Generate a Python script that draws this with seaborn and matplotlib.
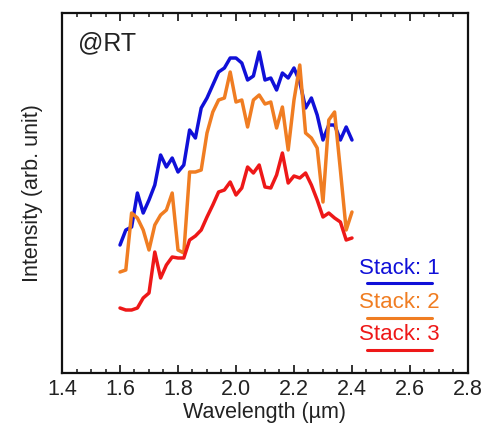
import numpy as np
import pandas as pd
import matplotlib
matplotlib.use("Agg")
import matplotlib.pyplot as plt
import seaborn as sns

# wavelength grid (um), 0.02 steps
wavelength = [round(1.6 + 0.02 * i, 2) for i in range(41)]

# intensities (arb. unit)
stack1 = [128, 143, 146, 180, 160, 173, 188, 218, 206, 215, 201, 208, 243, 235, 265,
          275, 288, 301, 305, 315, 315, 310, 293, 297, 321, 293, 295, 283, 300, 295,
          305, 291, 265, 275, 258, 233, 248, 248, 233, 246, 233]
stack2 = [101, 103, 160, 155, 143, 123, 148, 158, 163, 180, 123, 120, 201, 201, 203,
          240, 261, 273, 275, 301, 271, 273, 246, 273, 278, 269, 271, 245, 266, 223,
          273, 308, 240, 235, 225, 171, 253, 261, 203, 143, 161]
stack3 = [65, 63, 63, 65, 75, 80, 121, 95, 108, 116, 115, 115, 133, 137, 143,
          156, 168, 181, 183, 191, 178, 185, 206, 200, 208, 186, 185, 198, 220, 190,
          197, 195, 200, 188, 173, 156, 160, 155, 151, 133, 135]

labels = ["Stack: 1", "Stack: 2", "Stack: 3"]
colors = ["#1010d8", "#f07d22", "#ee1818"]

df = pd.DataFrame({
    "wavelength": wavelength * 3,
    "intensity": stack1 + stack2 + stack3,
    "stack": [labels[0]] * 41 + [labels[1]] * 41 + [labels[2]] * 41,
})

sns.set_style("ticks")
plt.rcParams["font.family"] = ["Liberation Sans", "DejaVu Sans"]

fig = plt.figure(figsize=(4.89, 4.38), dpi=100)
ax = fig.add_axes([0.1268, 0.1484, 0.8302, 0.8219])

sns.lineplot(data=df, x="wavelength", y="intensity", hue="stack",
             palette=colors, linewidth=2.5, legend=False, ax=ax)

ax.set_xlim(1.4, 2.8)
ax.set_ylim(0, 360)
ax.set_xticks(np.arange(1.4, 2.81, 0.2))
ax.set_xticklabels([f"{v:.1f}" for v in np.arange(1.4, 2.81, 0.2)], fontsize=15.5)
ax.set_xticks(np.arange(1.4, 2.81, 0.05), minor=True)
ax.set_yticks([])
ax.tick_params(axis="x", which="major", direction="in", length=6, width=1.3,
               top=True, pad=4, colors="#222222")
ax.tick_params(axis="x", which="minor", direction="in", length=3, width=1.2, top=True)
for s in ax.spines.values():
    s.set_linewidth(1.6)
    s.set_color("#111111")

ax.set_xlabel("Wavelength (µm)", fontsize=15.5, color="#222222", labelpad=2)
ax.set_ylabel("Intensity (arb. unit)", fontsize=15.5, color="#222222", labelpad=14)

ax.text(0.04, 0.915, "@RT", transform=ax.transAxes, fontsize=18,
        ha="left", va="center", color="#222222")

# underlined legend entries
text_y = [0.29, 0.197, 0.106]
line_y = [0.25, 0.153, 0.064]
for lab, c, ty, ly in zip(labels, colors, text_y, line_y):
    ax.text(0.83, ty, lab, transform=ax.transAxes, fontsize=16, color=c,
            ha="center", va="center")
    ax.plot([0.751, 0.911], [ly, ly], transform=ax.transAxes, color=c, lw=2.2)

fig.savefig("out.png", dpi=100)
